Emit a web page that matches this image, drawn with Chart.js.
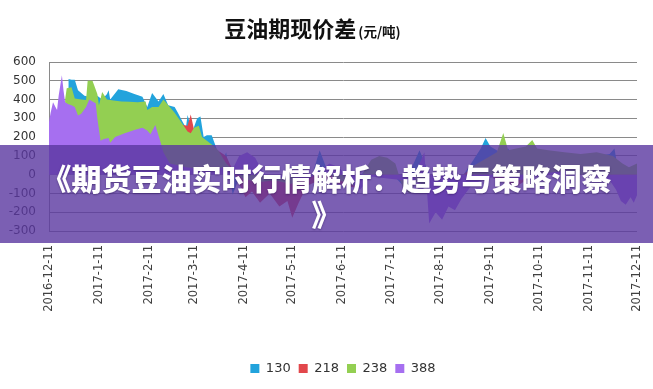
<!DOCTYPE html>
<html>
<head>
<meta charset="utf-8">
<script src="https://cdn.jsdelivr.net/npm/chart.js@4.4.1/dist/chart.umd.min.js"></script>
<style>
  body { margin: 0; background: #fff; }
  .wrap { position: relative; width: 653px; height: 389px; overflow: hidden; }
  #myChart { position: absolute; left: 0; top: 0; }
  .title {
    position: absolute; left: 0; top: 14px; width: 625px; text-align: center;
    font-family: "Noto Sans CJK SC", sans-serif; font-weight: 700; color: #111;
    font-size: 22px; line-height: 27px;
  }
  .title small { font-size: 13.5px; font-weight: 700; margin-left: 2px; }
  .banner {
    position: absolute; left: 0; top: 145px; width: 653px; height: 98px;
    background: rgba(90, 55, 160, 0.8); color: #fff; text-align: center;
    font-family: "Noto Sans CJK SC", sans-serif; font-weight: 900;
    font-size: 30px; line-height: 36px; padding-top: 14px; box-sizing: border-box;
    text-shadow: 0 1px 2px rgba(40, 20, 80, 0.5);
  }
</style>
</head>
<body>
<div class="wrap">
  <canvas id="myChart" width="653" height="389"></canvas>
  <div class="title">豆油期现价差<small>(元/吨)</small></div>
  <div class="banner">《期货豆油实时行情解析：趋势与策略洞察<br>》</div>
</div>
<script>
// tick labels on the date axis
const tickLabels = ['2016-12-11', '2017-1-11', '2017-2-11', '2017-3-11', '2017-4-11', '2017-5-11', '2017-6-11',
  '2017-7-11', '2017-8-11', '2017-9-11', '2017-10-11', '2017-11-11', '2017-12-11'];
const seriesNames = ['130', '218', '238', '388'];

// days since 2016-12-11 and spread values (元/吨) per series
const days130 = [12, 14, 16, 18, 22, 28, 30, 33, 36, 37, 38, 43, 48, 53, 58, 61, 64, 68, 71, 74, 78, 80, 83, 85, 86, 89, 92, 94, 96, 98, 101,
  104, 107, 110, 114, 117, 125, 135, 145, 155, 162, 168, 172, 180, 190, 200, 210, 220, 230, 240, 255, 262, 268, 271, 274, 280, 285, 290,
  300, 310, 320, 330, 340, 348, 351, 353, 360, 365];
const vals130 = [510, 505, 505, 450, 420, 410, 420, 400, 430, 450, 400, 455, 445, 430, 415, 360, 435, 390, 430, 370, 360, 330, 280, 250, 318, 230, 300, 310, 200, 210, 210,
  140, 60, 120, -107, -40, -40, -60, -60, -60, -40, 130, 40, 30, -30, 50, 30, -60, 130, -80, -30, 60, 140, 195, 150, 120, 140, 80,
  90, 90, 80, 90, 100, 110, 140, 40, 20, 30];

const days218 = [50, 60, 70, 80, 86, 88, 90, 95, 101, 110, 118, 122, 126, 131, 137, 143, 148, 151, 155, 160, 170, 180, 190, 200, 210, 220,
  230, 240, 250, 260, 270, 276, 282, 290, 296, 300, 310, 320, 330, 340, 350, 360, 365];
const vals218 = [350, 330, 330, 270, 260, 320, 240, 190, 150, 100, -50, -120, -90, -150, -100, -170, -140, -230, -150, -60, -20, -50, -70, 30, 40, -50,
  -20, -80, -50, 20, 60, -20, -40, -65, -30, 60, 80, 60, 80, 90, 60, 20, 30];

const days238 = [10, 11, 14, 16, 20, 23, 24, 27, 30, 31, 33, 36, 40, 45, 50, 55, 60, 61, 64, 68, 71, 74, 78, 82, 86, 88, 90, 93, 95, 98, 101,
  105, 110, 115, 120, 130, 140, 150, 160, 170, 180, 190, 200, 205, 210, 215, 220, 224, 228, 235, 245, 255, 262, 270, 278, 282, 285, 290,
  296, 300, 303, 310, 320, 330, 340, 350, 356, 360, 365];
const vals238 = [400, 460, 465, 405, 400, 398, 500, 500, 430, 370, 440, 400, 395, 390, 388, 385, 390, 345, 360, 360, 400, 370, 330, 280, 230, 220, 250, 260, 200, 180, 160,
  130, 60, 20, -20, -40, -30, -50, -20, 20, -30, -60, 80, 100, 90, 60, -80, -100, -40, -60, -100, -60, 40, 80, 120, 222, 130, 140,
  150, 185, 140, 130, 120, 110, 120, 100, 60, 40, 60];

const days388 = [0, 1, 2.5, 4, 5, 6, 8, 9, 10, 12, 14, 16, 18, 20, 23, 25, 27, 29, 30, 32, 34, 37, 38, 41, 47, 53, 58, 61, 63, 66, 69, 71,
  75, 85, 95, 101, 108, 114, 118, 123, 128, 133, 140, 150, 160, 168, 174, 180, 187, 193, 200, 210, 220, 226, 230, 233, 236, 240, 244,
  248, 252, 256, 262, 270, 280, 290, 300, 310, 320, 330, 340, 348, 352, 355, 358, 361, 363, 365];
const vals388 = [280, 330, 385, 360, 345, 420, 530, 450, 385, 375, 370, 360, 315, 325, 360, 400, 390, 380, 300, 180, 190, 195, 170, 200, 220, 238, 250, 235, 215, 265, 180, 120,
  60, 40, 30, 20, 40, 30, 100, 120, 90, 10, -20, -10, -30, 20, 60, 40, -40, -80, -10, -20, -30, -60, 60, 120, -260, -200, -240,
  -170, -190, -130, -60, -20, -10, -30, -20, 10, 20, 0, -10, -30, -80, -140, -160, -120, -150, -110];

const colors = ['#22a3dc', '#e2474b', '#93cf52', '#a66ff0'];

document.addEventListener("DOMContentLoaded", function() {
  // tick positions as days after the first label
  const start = Date.UTC(2016, 11, 11);
  const tickDays = tickLabels.map(s => {
    const p = s.split('-').map(Number);
    return Math.round((Date.UTC(p[0], p[1] - 1, p[2]) - start) / 86400000);
  });

  function points(days, vals) {
    return days.map((d, i) => ({ x: d, y: vals[i] }));
  }

  const allDays = [days130, days218, days238, days388];
  const allVals = [vals130, vals218, vals238, vals388];

  // 388 in front, 130 at the back
  const datasets = seriesNames.map((name, i) => ({
    label: name,
    data: points(allDays[i], allVals[i]),
    backgroundColor: colors[i],
    borderColor: 'rgba(0,0,0,0)',
    borderWidth: 0,
    pointRadius: 0,
    fill: 'origin',
    tension: 0,
    order: 3 - i
  }));

  const config = {
    type: 'line',
    data: { datasets: datasets },
    options: {
      responsive: false,
      animation: false,
      layout: { padding: { top: 62, right: 16, bottom: 4, left: 0 } },
      scales: {
        x: {
          type: 'linear',
          min: 0,
          max: 365,
          grid: { display: false, drawTicks: false },
          border: { display: false },
          afterBuildTicks: function(scale) {
            scale.ticks = tickDays.map(v => ({ value: v }));
          },
          afterFit: function(scale) {
            scale.height = 123;
            // the rotated end labels must not squeeze the plot
            scale.paddingLeft = 0;
            scale.paddingRight = 0;
          },
          ticks: {
            autoSkip: false,
            minRotation: 90,
            maxRotation: 90,
            padding: 14,
            color: '#404040',
            font: { family: 'DejaVu Sans', size: 11.5 },
            callback: function(value) {
              const idx = tickDays.indexOf(value);
              return idx !== -1 ? tickLabels[idx] : '';
            }
          }
        },
        y: {
          min: -300,
          max: 600,
          grid: { color: '#8a8a8a', drawTicks: false },
          border: { display: true, color: '#8a8a8a' },
          afterFit: function(scale) {
            scale.width = 49;
          },
          ticks: {
            stepSize: 100,
            padding: 13,
            color: '#333',
            font: { family: 'DejaVu Sans', size: 12 }
          }
        }
      },
      plugins: {
        tooltip: { enabled: false },
        legend: {
          position: 'bottom',
          fullSize: false,
          labels: {
            boxWidth: 9,
            boxHeight: 9,
            padding: 8,
            color: '#333',
            font: { family: 'DejaVu Sans', size: 13 },
            sort: (a, b) => a.datasetIndex - b.datasetIndex
          }
        }
      }
    }
  };

  new Chart(document.getElementById('myChart'), config);
});
</script>
</body>
</html>
